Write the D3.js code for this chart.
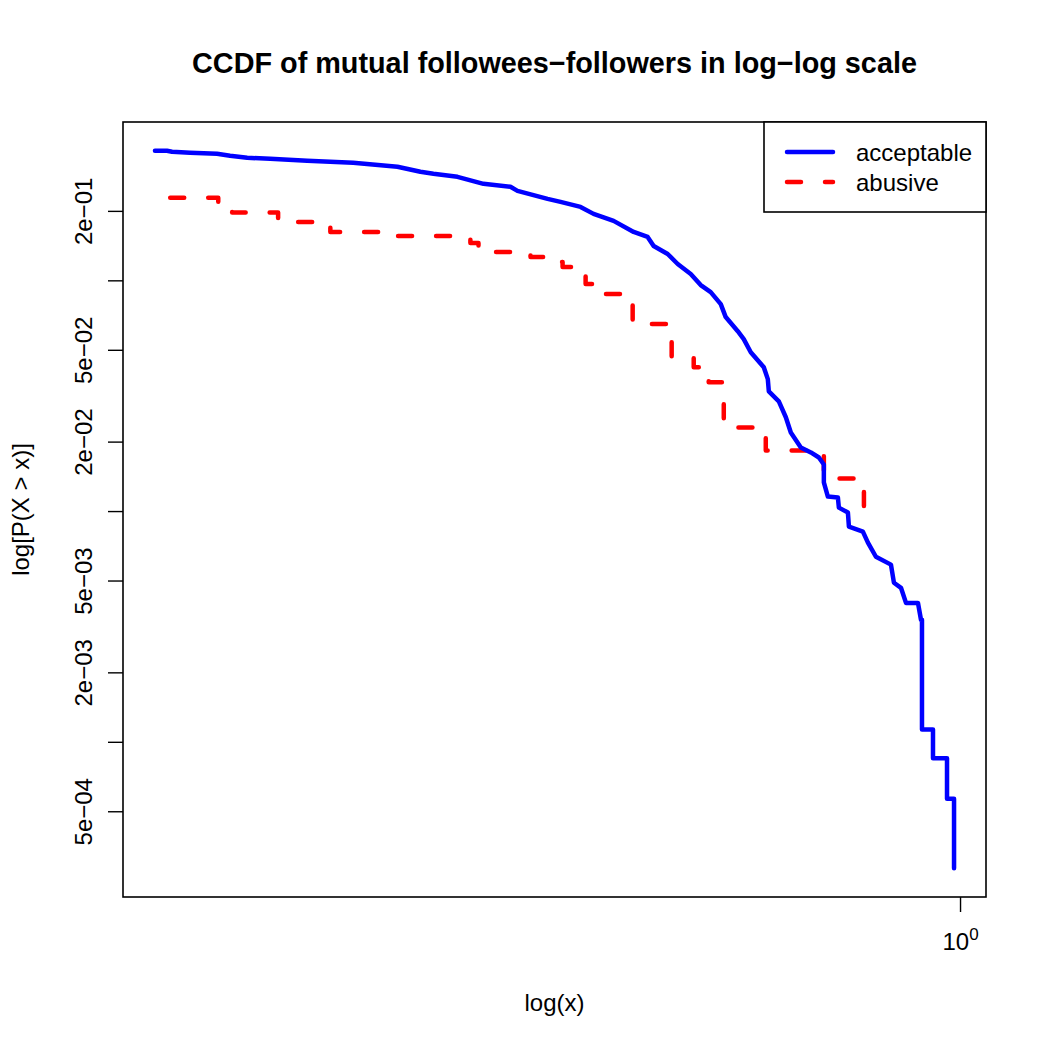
<!DOCTYPE html>
<html lang="en">
<head>
  <meta charset="UTF-8">
  <title>CCDF of mutual followees-followers</title>
  <style>
    body { margin: 0; background: #fff; }
    svg { font-family: "Liberation Sans", Arial, Helvetica, sans-serif; }
    .frame { fill: none; stroke: #000; stroke-width: 1.6px; }
    .tick line { stroke: #000; stroke-width: 1.4px; }
    .tick text { font-size: 24px; fill: #000; }
  </style>
</head>
<body>
  <svg width="1050" height="1050"></svg>

  <script src="https://d3js.org/d3.v7.min.js"></script>
  <script>
    // CCDF values
    const blueX = [0.1570, 0.1614, 0.1633, 0.1702, 0.1811, 0.1866, 0.1941, 0.2046, 0.2228, 0.2477,
                   0.2742, 0.2891, 0.2979, 0.3148, 0.3342, 0.3556, 0.3614, 0.3873, 0.3990, 0.4178,
                   0.4305, 0.4508, 0.4721, 0.4875, 0.4943, 0.5105, 0.5224, 0.5383, 0.5508, 0.5636,
                   0.5768, 0.5834, 0.5998, 0.6081, 0.6180, 0.6368, 0.6427, 0.6442, 0.6592, 0.6699,
                   0.6776, 0.6934, 0.7096, 0.7228, 0.7311, 0.7311, 0.7379, 0.7551, 0.7568, 0.7727,
                   0.7745, 0.7998, 0.8091, 0.8241, 0.8531, 0.8590, 0.8730, 0.8831, 0.9078, 0.9141,
                   0.9162, 0.9162, 0.9397, 0.9397, 0.9705, 0.9705, 0.9863, 0.9863];
    const blueY = [0.3646, 0.3646, 0.3609, 0.3572, 0.3536, 0.3466, 0.3398, 0.3364, 0.3298, 0.3233,
                   0.3106, 0.2954, 0.2896, 0.2810, 0.2620, 0.2543, 0.2442, 0.2254, 0.2188, 0.2081,
                   0.1941, 0.1810, 0.1621, 0.1542, 0.1409, 0.1301, 0.1177, 0.1065, 0.0954, 0.0889,
                   0.0789, 0.0693, 0.0602, 0.0556, 0.0488, 0.0420, 0.0373, 0.0330, 0.0299, 0.0255,
                   0.0219, 0.01887, 0.01795, 0.01707, 0.01592, 0.01330, 0.01156, 0.01144, 0.01035, 0.00985,
                   0.00856, 0.00815, 0.00730, 0.00634, 0.00586, 0.00489, 0.00465, 0.00400, 0.00400, 0.00338,
                   0.00338, 0.00113, 0.00113, 0.000849, 0.000849, 0.000566, 0.000566, 0.000283];

    const redX = [0.1626, 0.1816, 0.1875, 0.2084, 0.2350, 0.2636, 0.3206, 0.3243, 0.3304, 0.3724,
                  0.3963, 0.4009, 0.4227, 0.4426, 0.4710, 0.5152, 0.5420, 0.5610, 0.5808, 0.6397,
                  0.7311, 0.8017];
    const redY = [0.2278, 0.2124, 0.1970, 0.1792, 0.1621, 0.1557, 0.1511, 0.1452, 0.1327, 0.1263,
                  0.1201, 0.1142, 0.0964, 0.0872, 0.0646, 0.0460, 0.0420, 0.0362, 0.0230, 0.01832,
                  0.01384, 0.00900];

    const yTicks = [0.2, 0.1, 0.05, 0.02, 0.01, 0.005, 0.002, 0.001, 0.0005];
    const yTickLabels = ["2e\u221201", "", "5e\u221202", "2e\u221202", "", "5e\u221203", "2e\u221203", "", "5e\u221204"];
    const xTicks = [1];

    const svg = d3.select("svg");
    const pLeft = 123, pRight = 986, pTop = 122, pBottom = 897;

    // R style: data range padded by 4% on each side (in log space)
    function padLog(vals) {
      const lo = Math.log10(d3.min(vals)), hi = Math.log10(d3.max(vals));
      const p = (hi - lo) * 0.04;
      return [Math.pow(10, lo - p), Math.pow(10, hi + p)];
    }

    const x = d3.scaleLog().domain(padLog(blueX)).range([pLeft, pRight]);
    const y = d3.scaleLog().domain(padLog(blueY)).range([pBottom, pTop]);

    const blue = blueX.map((v, i) => [v, blueY[i]]);
    const red = redX.map((v, i) => [v, redY[i]]);

    // title
    svg.append("text")
      .attr("x", (pLeft + pRight) / 2).attr("y", 73)
      .attr("text-anchor", "middle")
      .style("font-size", "28.8px").style("font-weight", "bold")
      .text("CCDF of mutual followees\u2212followers in log\u2212log scale");

    // y axis
    const yAxis = svg.append("g")
      .attr("transform", `translate(${pLeft},0)`)
      .call(d3.axisLeft(y).tickValues(yTicks).tickSize(15).tickSizeOuter(0)
        .tickFormat((d, i) => yTickLabels[i]));
    yAxis.select(".domain").remove();
    yAxis.selectAll(".tick text")
      .attr("x", null).attr("dy", null)
      .attr("text-anchor", "middle")
      .attr("transform", "translate(-31,0) rotate(-90)");

    // x axis
    const xAxis = svg.append("g")
      .attr("transform", `translate(0,${pBottom})`)
      .call(d3.axisBottom(x).tickValues(xTicks).tickSize(15).tickSizeOuter(0).tickFormat(""));
    xAxis.select(".domain").remove();
    const xl = xAxis.selectAll(".tick").append("text")
      .attr("y", 53).attr("text-anchor", "middle")
      .style("font-size", "24px");
    xl.append("tspan").text("10");
    xl.append("tspan").attr("dy", -10).style("font-size", "17px").text("0");

    // axis titles
    svg.append("text")
      .attr("x", (pLeft + pRight) / 2).attr("y", 1011)
      .attr("text-anchor", "middle")
      .style("font-size", "24px")
      .text("log(x)");
    svg.append("text")
      .attr("transform", `translate(29,${(pTop + pBottom) / 2}) rotate(-90)`)
      .attr("text-anchor", "middle")
      .style("font-size", "24px")
      .text("log[P(X > x)]");

    // curves
    const lineLin = d3.line().x(d => x(d[0])).y(d => y(d[1]));
    const lineStep = d3.line().x(d => x(d[0])).y(d => y(d[1])).curve(d3.curveStepAfter);

    svg.append("path")
      .datum(red)
      .attr("d", lineStep)
      .attr("fill", "none")
      .attr("stroke", "#ff0000")
      .attr("stroke-width", 4.5)
      .attr("stroke-linecap", "round")
      .attr("stroke-linejoin", "round")
      .attr("stroke-dasharray", "14,24");

    svg.append("path")
      .datum(blue)
      .attr("d", lineLin)
      .attr("fill", "none")
      .attr("stroke", "#0000ff")
      .attr("stroke-width", 4.5)
      .attr("stroke-linecap", "round")
      .attr("stroke-linejoin", "round");

    // plot frame
    svg.append("rect").attr("class", "frame")
      .attr("x", pLeft).attr("y", pTop)
      .attr("width", pRight - pLeft).attr("height", pBottom - pTop);

    // legend
    const legend = svg.append("g");
    legend.append("rect")
      .attr("x", 764).attr("y", pTop)
      .attr("width", pRight - 764).attr("height", 90)
      .attr("fill", "#fff").attr("stroke", "#000").attr("stroke-width", 1.6);
    const items = [
      { name: "acceptable", color: "#0000ff", dash: null },
      { name: "abusive", color: "#ff0000", dash: "14,24" }
    ];
    items.forEach((it, i) => {
      const yy = pTop + 30 + i * 30;
      legend.append("line")
        .attr("x1", 787).attr("x2", 833)
        .attr("y1", yy).attr("y2", yy)
        .attr("stroke", it.color).attr("stroke-width", 4.5)
        .attr("stroke-linecap", "round")
        .attr("stroke-dasharray", it.dash);
      legend.append("text")
        .attr("x", 856).attr("y", yy + 9)
        .style("font-size", "24px")
        .text(it.name);
    });
  </script>
</body>
</html>
